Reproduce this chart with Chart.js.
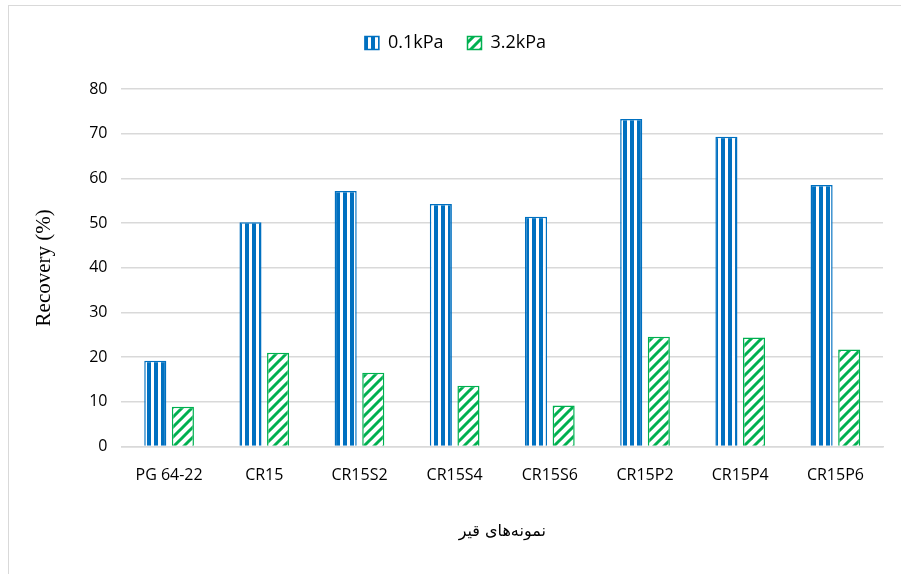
<!DOCTYPE html>
<html>
<head>
<meta charset="utf-8">
<script src="https://cdn.jsdelivr.net/npm/chart.js@4"></script>
<style>
  body{margin:0;background:#fff;}
  #wrap{position:relative;width:901px;height:574px;}
  #frame{position:absolute;left:8px;top:5px;width:900px;height:580px;border-left:1px solid #d9d9d9;border-top:1px solid #d9d9d9;}
  canvas{position:absolute;left:0;top:0;}
</style>
</head>
<body>
<div id="wrap">
  <div id="frame"></div>
  <canvas id="c" width="901" height="574"></canvas>
</div>
<script>
// data
const categories = ["PG 64-22","CR15","CR15S2","CR15S4","CR15S6","CR15P2","CR15P4","CR15P6"];
const low = [19.2, 50.2, 57.2, 54.3, 51.4, 73.3, 69.3, 58.5];
const high = [8.9, 21.0, 16.5, 13.6, 9.2, 24.6, 24.4, 21.7];
const seriesNames = ["0.1kPa","3.2kPa"];
const yTicks = [0,10,20,30,40,50,60,70,80];

const BLUE = "#0070c0";
const GREEN = "#00b050";

// vertical stripes
function stripePattern(){
  let cv = document.createElement("canvas");
  cv.width = 7; cv.height = 7;
  let x = cv.getContext("2d");
  x.fillStyle = BLUE; x.fillRect(0,0,7,7);
  x.fillStyle = "#fff"; x.fillRect(4,0,3,7);
  return x.createPattern(cv,"repeat");
}

// diagonal hatch
function hatchPattern(){
  let s = 10;
  let cv = document.createElement("canvas");
  cv.width = s; cv.height = s;
  let x = cv.getContext("2d");
  x.fillStyle = "#fff"; x.fillRect(0,0,s,s);
  x.strokeStyle = GREEN; x.lineWidth = 3;
  x.beginPath();
  x.moveTo(-2, s+2); x.lineTo(s+2, -2);
  x.moveTo(-2-s, s+2); x.lineTo(2, -2);
  x.moveTo(s-2, s+2); x.lineTo(2*s+2, -2);
  x.stroke();
  return x.createPattern(cv,"repeat");
}

// extra room under the legend
const legendGap = {
  id:"legendGap",
  beforeInit(chart){
    const fit = chart.legend.fit;
    chart.legend.fit = function(){
      fit.bind(chart.legend)();
      this.height += 27;
    };
  }
};

new Chart(document.getElementById("c"),{
  type:"bar",
  data:{
    labels:categories,
    datasets:[
      {label:seriesNames[0],data:low,backgroundColor:stripePattern(),borderColor:BLUE,borderWidth:1.5},
      {label:seriesNames[1],data:high,backgroundColor:hatchPattern(),borderColor:GREEN,borderWidth:1.5}
    ]
  },
  plugins:[legendGap],
  options:{
    responsive:false,
    animation:false,
    devicePixelRatio:1,
    layout:{padding:{top:10,right:18,left:28,bottom:29}},
    categoryPercentage:0.58,
    barPercentage:0.8,
    plugins:{
      legend:{
        position:"top",
        labels:{
          font:{family:"Open Sans",size:18},
          color:"#000",
          boxWidth:14,boxHeight:13,
          padding:24
        }
      },
      tooltip:{enabled:false}
    },
    scales:{
      x:{
        grid:{display:false},
        border:{color:"#d9d9d9",width:1.5},
        ticks:{font:{family:"Open Sans",size:16},color:"#000",padding:11},
        title:{display:true,text:"نمونه‌های قیر",font:{family:"DejaVu Sans",size:16},color:"#000",padding:{top:26}}
      },
      y:{
        min:0,max:80,
        afterBuildTicks(ax){ax.ticks = yTicks.map(v=>({value:v}));},
        grid:{color:"#d9d9d9",lineWidth:1.5,drawTicks:false},
        border:{display:false},
        ticks:{font:{family:"Open Sans",size:16},color:"#000",padding:14},
        title:{display:true,text:"Recovery (%)",font:{family:"Liberation Serif",size:21},color:"#000",padding:{bottom:18}}
      }
    }
  }
});
</script>
</body>
</html>
